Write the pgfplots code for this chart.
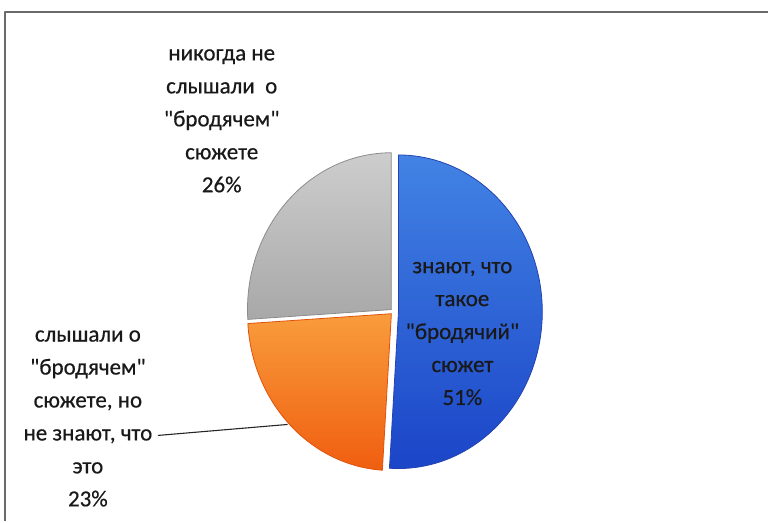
\documentclass[border=0pt]{standalone}
\usepackage{pgfplots}
\pgfplotsset{compat=1.18}
\usepackage{fontspec}
\setmainfont{Carlito}
\newfontfamily\lab{Carlito}[FakeBold=0.5]
\definecolor{blueTop}{HTML}{4283E4}
\definecolor{blueBot}{HTML}{1B45C8}
\definecolor{blueEdge}{HTML}{2343B0}
\definecolor{orTop}{HTML}{F89C3C}
\definecolor{orBot}{HTML}{F05E10}
\definecolor{orEdge}{HTML}{E0520C}
\definecolor{grTop}{HTML}{CDCDCD}
\definecolor{grBot}{HTML}{A8A8A8}
\definecolor{grEdge}{HTML}{8C8C8C}
\definecolor{frameC}{HTML}{6A6A6A}
\begin{document}
\begin{tikzpicture}
\begin{axis}[
  width=769pt, height=522pt, scale only axis,
  xmin=0, xmax=769, ymin=0, ymax=522,
  hide axis, clip=false,
  every axis plot/.append style={line join=round},
]
% full canvas (invisible)
\addplot[draw=none, mark=none] coordinates {(0,0) (769,522)};
% frame
\addplot[frameC, line width=2pt, mark=none] coordinates {(5.5,0) (5.5,509.5) (769,509.5)};
% values: 51% (blue), 23% (orange), 26% (gray); angles clockwise from 12 o'clock = percent*3.6
% blue 51%: 0 .. 183.6, exploded 5
\addplot[top color=blueTop, bottom color=blueBot, draw=blueEdge, line width=0.8pt, domain=0:183.6, samples=90]
  ({399+144*sin(x)},{209.84+157*cos(x)}) -- (axis cs:399,209.84) -- cycle;
% orange 23%: 183.6 .. 266.4, exploded 3
\addplot[top color=orTop, bottom color=orBot, draw=orEdge, line width=0.8pt, domain=183.6:266.4, samples=50]
  ({391.88+144*sin(x)},{207.88+157*cos(x)}) -- (axis cs:391.88,207.88) -- cycle;
% gray 26%: 266.4 .. 360, exploded 3
\addplot[top color=grTop, bottom color=grBot, draw=grEdge, line width=0.8pt, domain=266.4:360, samples=50]
  ({391.81+144*sin(x)},{212.05+157*cos(x)}) -- (axis cs:391.81,212.05) -- cycle;
% leader line
\addplot[black!85, line width=1.1pt, mark=none] coordinates {(158,86) (288,97)};
% labels
\node[align=center, font=\lab\fontsize{23}{33}\selectfont, text=black!90] at (axis cs:222,401)
  {никогда не\\слышали\ \ о\\\textquotedbl бродячем\textquotedbl\\сюжете\\26\%};
\node[align=center, font=\lab\fontsize{23}{33}\selectfont, text=black!90] at (axis cs:463,188)
  {знают, что\\такое\\\textquotedbl бродячий\textquotedbl\\сюжет\\51\%};
\node[align=center, font=\lab\fontsize{23}{33}\selectfont, text=black!90] at (axis cs:88,103)
  {слышали о\\\textquotedbl бродячем\textquotedbl\\сюжете, но\\не знают, что\\это\\23\%};
\end{axis}
\end{tikzpicture}
\end{document}
